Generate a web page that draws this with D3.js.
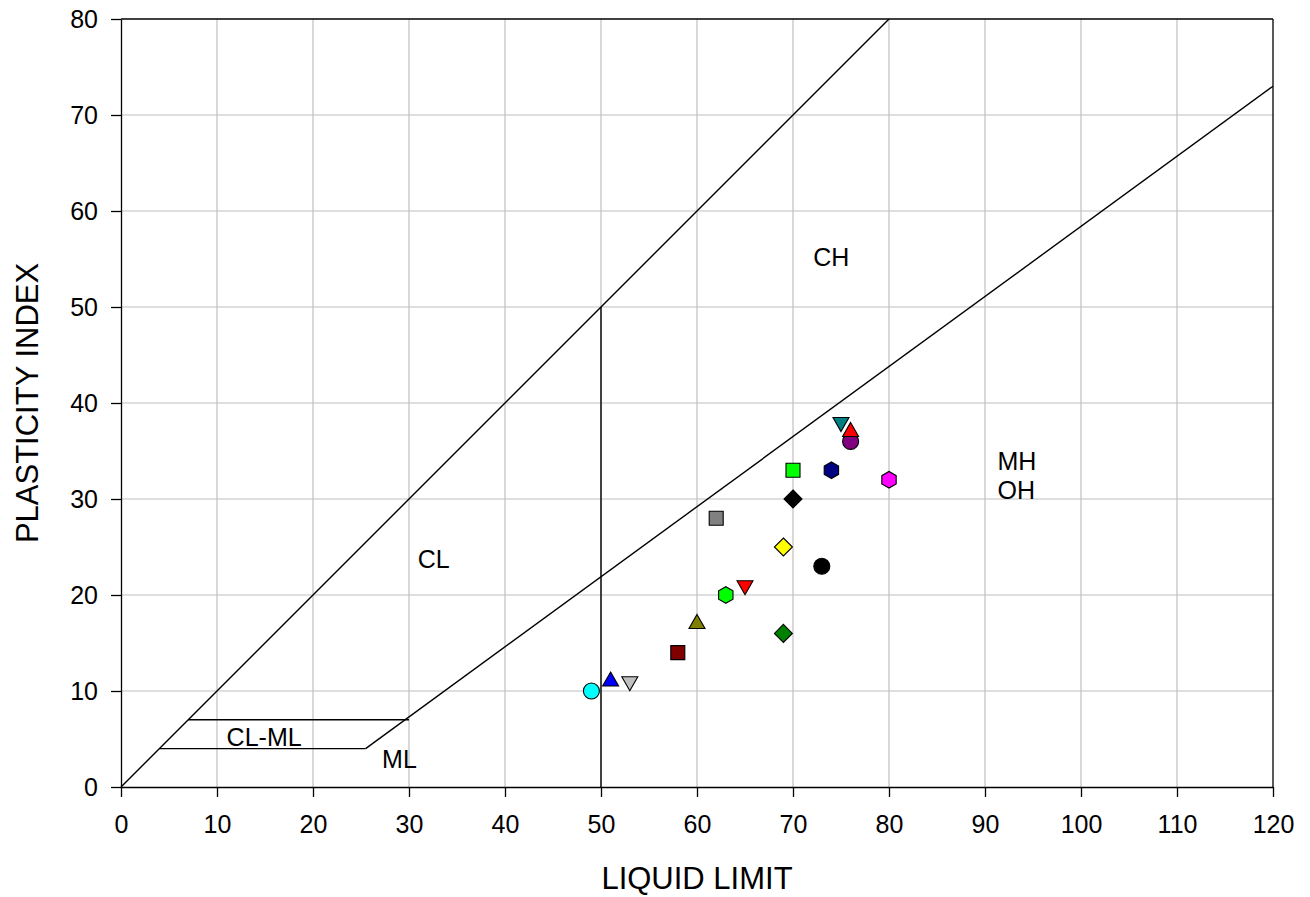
<!DOCTYPE html>
<html>
<head>
<meta charset="utf-8">
<script src="https://cdn.jsdelivr.net/npm/d3@7"></script>
<style>
  html, body { margin: 0; padding: 0; background: #fff; }
  svg { display: block; font-family: "Liberation Sans", Arial, sans-serif; }
</style>
</head>
<body>
<svg id="chart" width="1310" height="897"></svg>
<script>
// ---- data ----
const xTicks = [0, 10, 20, 30, 40, 50, 60, 70, 80, 90, 100, 110, 120];
const yTicks = [0, 10, 20, 30, 40, 50, 60, 70, 80];
const sampleLL = [49, 51, 53, 58, 60, 63, 65, 69, 73, 69, 62, 70, 70, 74, 80, 76, 75, 76];
const samplePI = [10, 11, 11, 14, 17, 20, 21, 25, 23, 16, 28, 30, 33, 33, 32, 36, 38, 37];
const sampleShape = ["circle", "triUp", "triDown", "square", "triUp", "hexagon", "triDown", "diamond", "circle",
                     "diamond", "square", "diamond", "square", "hexagon", "hexagon", "circle", "triDown", "triUp"];
const sampleColor = ["#00FFFF", "#0000FF", "#C0C0C0", "#800000", "#808000", "#00FF00", "#FF0000", "#FFFF00", "#000000",
                     "#008000", "#808080", "#000000", "#00FF00", "#000080", "#FF00FF", "#800080", "#008080", "#FF0000"];
// chart lines (LL, PI)
const uLine = [[0, 0], [80, 80]];
const aLine = [[25.48, 4], [120, 73]];
const vLine = [[50, 0], [50, 50]];
const hLine7 = [[7, 7], [30, 7]];
const hLine4 = [[4, 4], [25.48, 4]];
// region labels: text, LL, PI (baseline-left)
const regionText = ["CL", "CH", "MH", "OH", "CL-ML", "ML"];
const regionLL = [30.9, 72.1, 91.3, 91.3, 11.0, 27.2];
const regionPI = [22.8, 54.3, 33.0, 30.0, 4.3, 2.0];

// ---- layout ----
const margin = { left: 121, top: 19 };
const W = 1152, H = 768;
const svg = d3.select("#chart");
const g = svg.append("g").attr("transform", `translate(${margin.left},${margin.top})`);
const x = d3.scaleLinear().domain([0, 120]).range([0, W]);
const y = d3.scaleLinear().domain([0, 80]).range([H, 0]);

// grid
g.append("g").selectAll("line").data(xTicks.filter(d => d > 0 && d < 120)).join("line")
  .attr("x1", d => x(d)).attr("x2", d => x(d)).attr("y1", 0).attr("y2", H)
  .attr("stroke", "#C0C0C0").attr("stroke-width", 1.2);
g.append("g").selectAll("line").data(yTicks.filter(d => d > 0 && d < 80)).join("line")
  .attr("y1", d => y(d)).attr("y2", d => y(d)).attr("x1", 0).attr("x2", W)
  .attr("stroke", "#C0C0C0").attr("stroke-width", 1.2);

// axes
const xAxis = g.append("g").attr("transform", `translate(0,${H})`)
  .call(d3.axisBottom(x).tickValues(xTicks).tickSize(10).tickSizeOuter(0).tickPadding(18));
const yAxis = g.append("g")
  .call(d3.axisLeft(y).tickValues(yTicks).tickSize(10).tickSizeOuter(0).tickPadding(13));
[xAxis, yAxis].forEach(a => {
  a.selectAll("text").attr("font-size", 25).attr("fill", "#000").attr("font-family", "Liberation Sans, Arial, sans-serif");
  a.selectAll("line,path").attr("stroke", "#000").attr("stroke-width", 1.3);
});
// top & right frame
g.append("line").attr("x1", 0).attr("x2", W).attr("y1", 0).attr("y2", 0).attr("stroke", "#000").attr("stroke-width", 1.3);
g.append("line").attr("x1", W).attr("x2", W).attr("y1", 0).attr("y2", H).attr("stroke", "#000").attr("stroke-width", 1.3);

// chart lines
const line = d3.line().x(d => x(d[0])).y(d => y(d[1]));
[uLine, aLine, vLine, hLine7, hLine4].forEach(l => {
  g.append("path").attr("d", line(l)).attr("fill", "none").attr("stroke", "#000").attr("stroke-width", 1.4);
});

// region labels
g.append("g").selectAll("text").data(regionText).join("text")
  .attr("x", (d, i) => x(regionLL[i])).attr("y", (d, i) => y(regionPI[i]))
  .attr("font-size", 25).attr("fill", "#000").text(d => d);

// markers
function shapePath(s) {
  const p = d3.path();
  if (s === "circle") { p.arc(0, 0, 8, 0, 2 * Math.PI); }
  else if (s === "square") { p.rect(-7, -7, 14, 14); }
  else if (s === "diamond") { p.moveTo(0, -9); p.lineTo(9, 0); p.lineTo(0, 9); p.lineTo(-9, 0); p.closePath(); }
  else if (s === "triUp") { const h = 14; p.moveTo(0, -2 * h / 3); p.lineTo(8, h / 3); p.lineTo(-8, h / 3); p.closePath(); }
  else if (s === "triDown") { const h = 14; p.moveTo(0, 2 * h / 3); p.lineTo(8, -h / 3); p.lineTo(-8, -h / 3); p.closePath(); }
  else if (s === "hexagon") {
    for (let k = 0; k < 6; k++) {
      const a = Math.PI / 2 + k * Math.PI / 3;
      const px = 8.3 * Math.cos(a), py = 8.3 * Math.sin(a);
      if (k === 0) p.moveTo(px, py); else p.lineTo(px, py);
    }
    p.closePath();
  }
  return p.toString();
}
g.append("g").selectAll("path").data(sampleLL).join("path")
  .attr("transform", (d, i) => `translate(${x(d)},${y(samplePI[i])})`)
  .attr("d", (d, i) => shapePath(sampleShape[i]))
  .attr("fill", (d, i) => sampleColor[i])
  .attr("stroke", "#000").attr("stroke-width", 1.1);

// axis titles
svg.append("text").attr("x", margin.left + W / 2).attr("y", 889).attr("text-anchor", "middle")
  .attr("font-size", 31).attr("fill", "#000").text("LIQUID LIMIT");
svg.append("text").attr("transform", `translate(38,${margin.top + H / 2}) rotate(-90)`).attr("text-anchor", "middle")
  .attr("font-size", 31).attr("fill", "#000").text("PLASTICITY INDEX");
</script>
</body>
</html>
